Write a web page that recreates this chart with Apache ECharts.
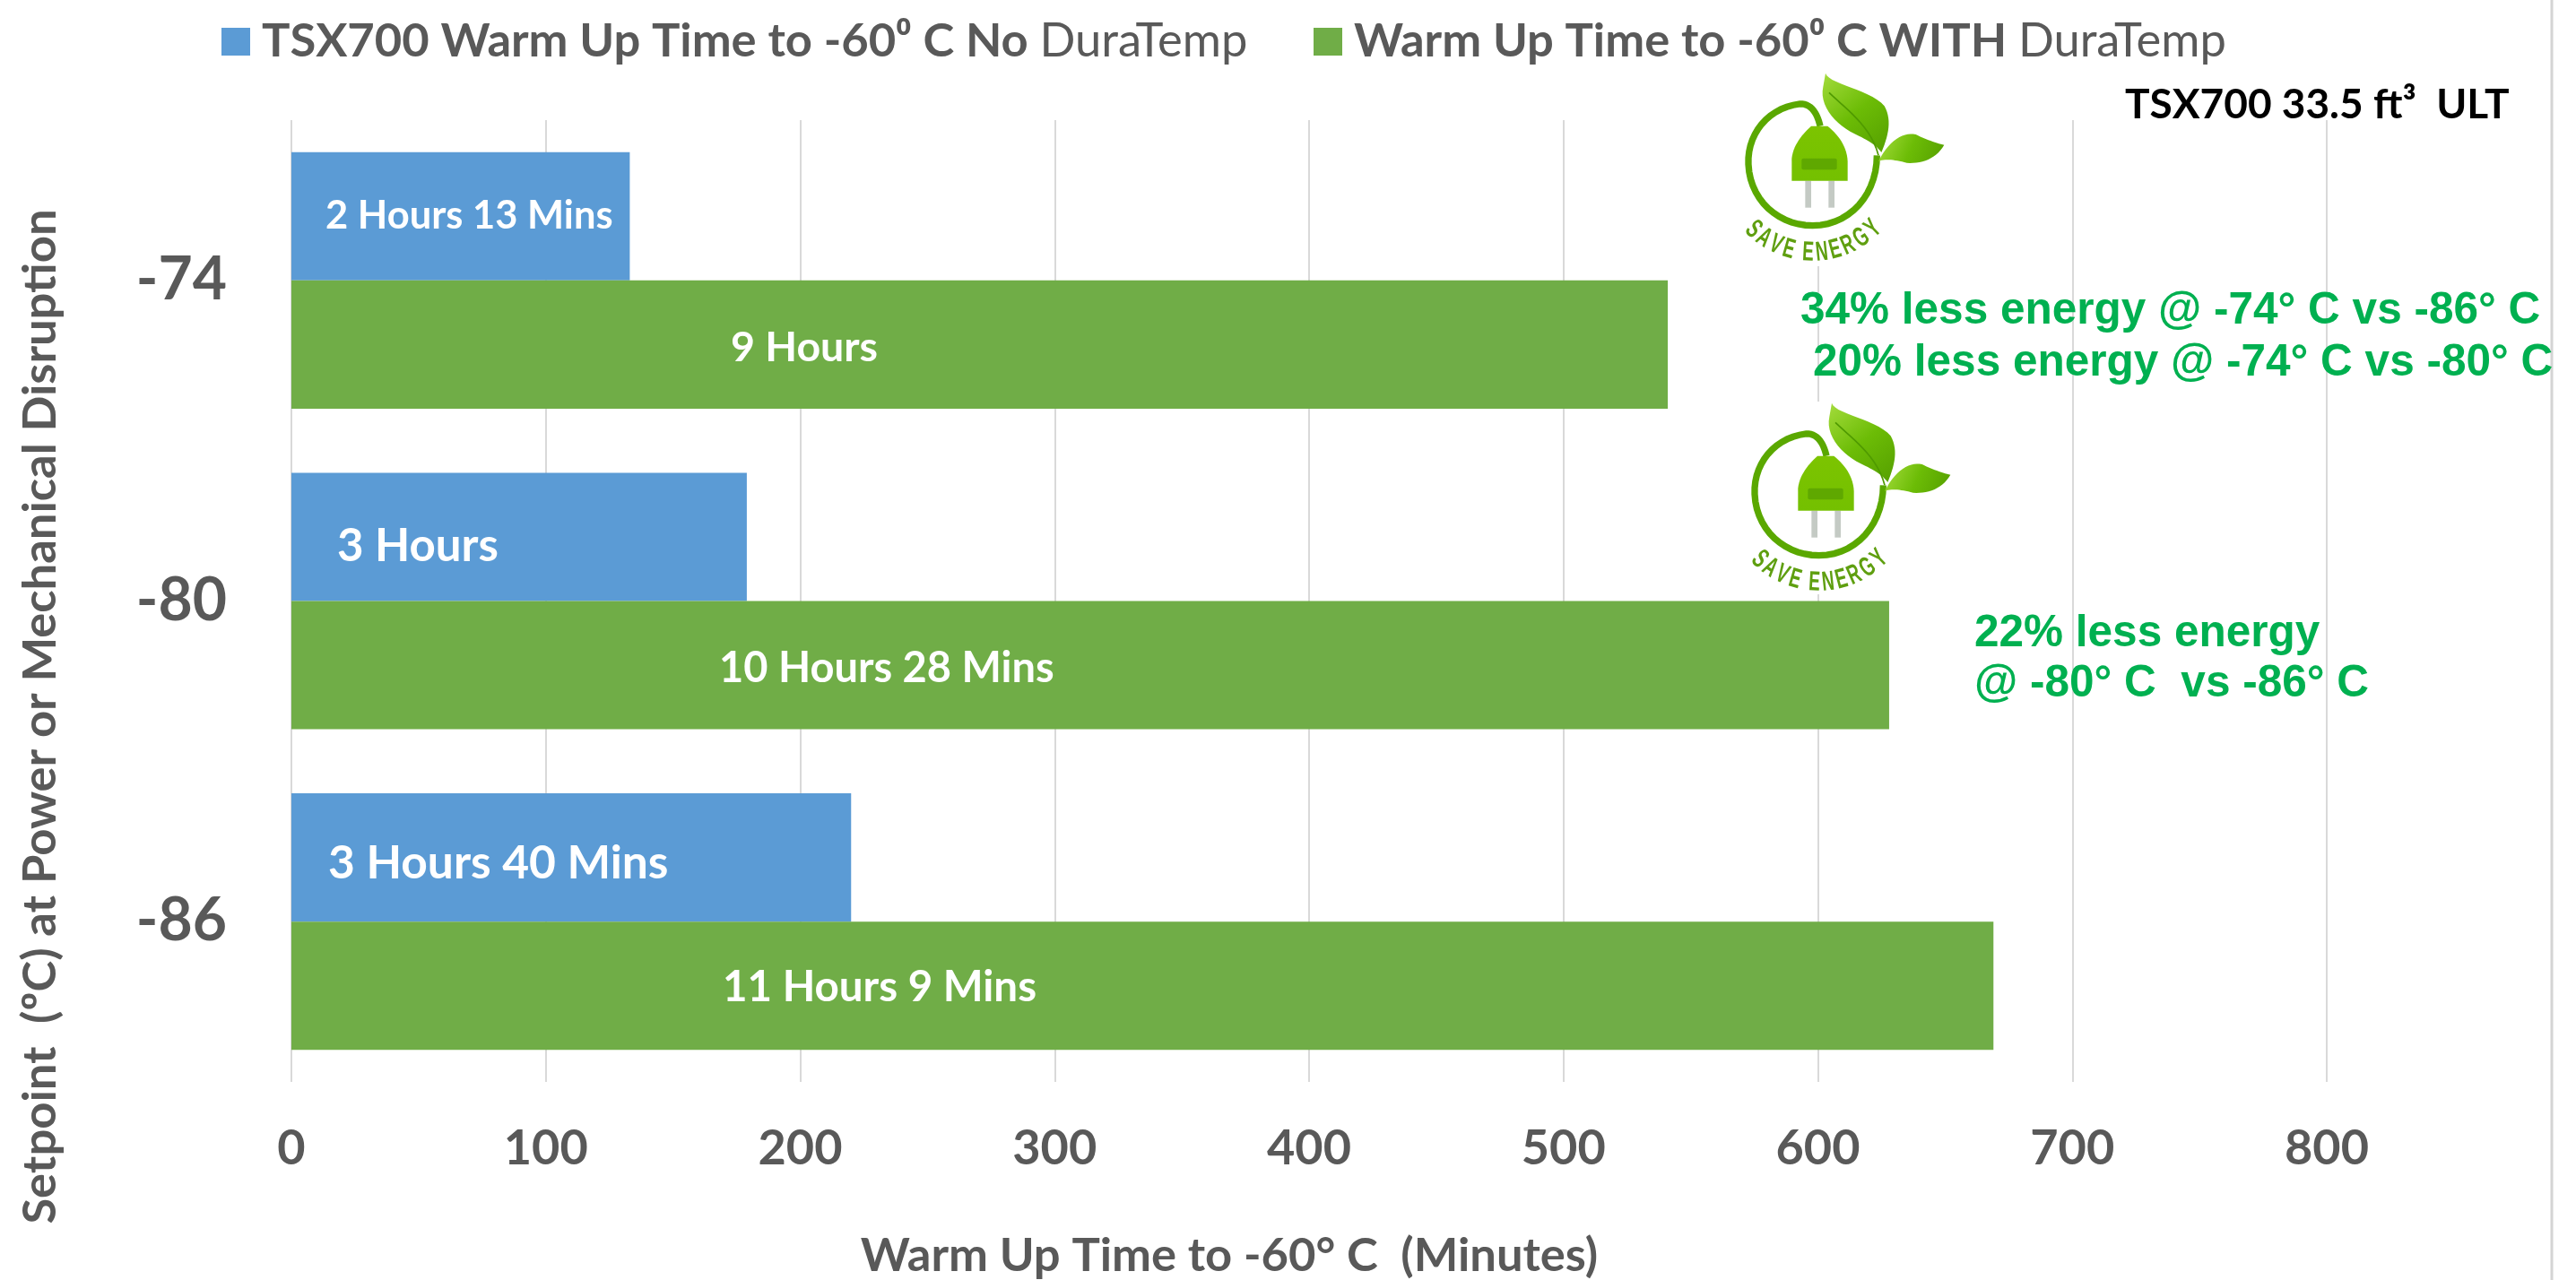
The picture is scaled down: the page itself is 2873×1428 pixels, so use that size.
<!DOCTYPE html>
<html>
<head>
<meta charset="utf-8">
<title>TSX700 Warm Up Time</title>
<style>html,body{margin:0;padding:0;background:#fff}#c{width:2873px;height:1428px}</style>
<script src="https://cdn.jsdelivr.net/npm/echarts@6/dist/echarts.min.js"></script>
</head>
<body>
<div id="c"></div>
<script>
const categories = ['-74', '-80', '-86'];
const tickValues = [0, 100, 200, 300, 400, 500, 600, 700, 800];
const noDuraTemp = [133, 179, 220];
const withDuraTemp = [541, 628, 669];
const noDuraTempLabels = ['2 Hours 13 Mins', '3 Hours', '3 Hours 40 Mins'];
const withDuraTempLabels = ['9 Hours', '10 Hours 28 Mins', '11 Hours 9 Mins'];
const seriesNames = ['TSX700 Warm Up Time to -60⁰ C No DuraTemp', 'Warm Up Time to -60⁰ C WITH DuraTemp'];
const chartNote = 'TSX700 33.5 ft³  ULT';
const energyNotes = [
  '34% less energy @ -74° C vs -86° C',
  '20% less energy @ -74° C vs -80° C',
  '22% less energy',
  '@ -80° C  vs -86° C'
];
const xTitle = 'Warm Up Time to -60° C  (Minutes)';
const yTitle = 'Setpoint  (ºC) at Power or Mechanical Disruption';

const FONT = 'Lato';
const GREY = '#595959';
const blueLabelStyle = [
  {fontSize: 43.5, offset: [38, 0]},
  {fontSize: 51, offset: [51, 11]},
  {fontSize: 51.5, offset: [41, 7]}
];
const greenLabelStyle = [
  {fontSize: 46.5, offset: [490, 4]},
  {fontSize: 47, offset: [477, 4]},
  {fontSize: 47.5, offset: [481, 2]}
];
function barData(values, labels, styles) {
  return values.map((v, i) => ({
    value: v,
    label: {show: true, position: 'insideLeft', distance: 0, formatter: labels[i],
      color: '#fff', fontWeight: 'bold', fontFamily: FONT,
      fontSize: styles[i].fontSize, offset: styles[i].offset}
  }));
}
function legendFormatter(name) {
  const parts = name.split('DuraTemp');
  return '{a|' + parts[0] + '}{d|DuraTemp}';
}
function legendRich(size) {
  return {
    a: {fontFamily: FONT, fontWeight: 'bold', fontSize: size, color: GREY, padding: [0, 0, 0, 8]},
    d: {fontFamily: FONT, fontWeight: 'normal', fontSize: size, color: GREY}
  };
}

/* Turn a small M/L/C/Z outline into points so the graphic component can draw it */
function outline(d) {
  const t = d.match(/[MLCZ]|-?[\d.]+/g);
  const pts = [];
  let i = 0, cmd = '', px = 0, py = 0;
  while (i < t.length) {
    if (/[MLCZ]/.test(t[i])) { cmd = t[i++]; if (cmd === 'Z') continue; }
    if (cmd === 'C') {
      const v = t.slice(i, i + 6).map(Number); i += 6;
      for (let k = 1; k <= 14; k++) {
        const u = k / 14, w = 1 - u;
        pts.push([
          w*w*w*px + 3*w*w*u*v[0] + 3*w*u*u*v[2] + u*u*u*v[4],
          w*w*w*py + 3*w*w*u*v[1] + 3*w*u*u*v[3] + u*u*u*v[5]
        ]);
      }
      px = v[4]; py = v[5];
    } else {
      px = +t[i++]; py = +t[i++];
      pts.push([px, py]);
    }
  }
  return pts;
}

/* decorative "save energy" badge, drawn in a 780x720 local box at 1/3 scale */
function badge(ox, oy, wx, wy, ww, wh) {
  const leafFill = {type: 'linear', x: 0, y: 0, x2: 1, y2: 1, colorStops: [
    {offset: 0, color: '#a4dc3c'}, {offset: 0.5, color: '#6cbc06'}, {offset: 1, color: '#559f00'}]};
  const plugFill = {type: 'linear', x: 0, y: 0, x2: 0, y2: 1, colorStops: [
    {offset: 0, color: '#7cc400'}, {offset: 1, color: '#74c000'}]};
  const letters = [['S', -43], ['A', -34], ['V', -25], ['E', -16], ['E', -3], ['N', 6], ['E', 15], ['R', 24], ['G', 34], ['Y', 44]];
  const R = 292, cx = 275, cy = 345;
  const Z = 6;
  const children = [
    {type: 'polyline', z: Z, shape: {points: outline('M300 212 C292 175 272 135 232 138 C125 150 55 240 60 340 C65 460 160 545 275 545 C400 545 490 440 490 310')},
     style: {fill: 'none', stroke: '#5aa800', lineWidth: 22}},
    {type: 'polygon', z: Z, shape: {points: outline('M318 35 C328 72 470 90 515 145 C540 190 530 240 505 300 C490 280 470 265 430 245 C360 215 295 150 310 80 Z')},
     style: {fill: leafFill}},
    {type: 'polyline', z: Z, shape: {points: outline('M330 100 C380 150 470 210 495 310')},
     style: {fill: 'none', stroke: '#4f9a00', lineWidth: 5}},
    {type: 'polygon', z: Z, shape: {points: outline('M495 330 C530 260 580 230 620 240 C650 255 690 270 715 275 C690 320 640 340 590 335 C550 325 520 320 495 330 Z')},
     style: {fill: leafFill}},
    {type: 'rect', z: Z, shape: {x: 250, y: 395, width: 20, height: 90}, style: {fill: '#c4cac4'}},
    {type: 'rect', z: Z, shape: {x: 328, y: 395, width: 20, height: 90}, style: {fill: '#c4cac4'}},
    {type: 'polygon', z: Z, shape: {points: outline('M270 212 L325 212 C360 240 390 280 392 330 L392 395 L205 395 L205 320 C210 275 240 240 270 212 Z')},
     style: {fill: plugFill}},
    {type: 'rect', z: Z, shape: {x: 238, y: 320, width: 118, height: 38, r: 6}, style: {fill: '#5fa800'}}
  ];
  letters.forEach(([ch, deg]) => {
    const t = deg * Math.PI / 180;
    children.push({type: 'text', z: Z, x: cx + R * Math.sin(t), y: cy + R * Math.cos(t), rotation: t, scaleX: 0.62,
      style: {text: ch, fill: '#5f9f10', font: 'bold 92px "Liberation Sans"', align: 'center', verticalAlign: 'middle'}});
  });
  return [
    {type: 'rect', z: 5, shape: {x: wx, y: wy, width: ww, height: wh}, style: {fill: '#fff'}},
    {type: 'group', x: ox, y: oy, scaleX: 1 / 3, scaleY: 1 / 3, children: children}
  ];
}
function noteText(str, x, y) {
  return {type: 'text', z: 7, x: x, y: y,
    style: {text: str, fill: '#00B050', font: 'bold 49.5px "Liberation Sans"', align: 'left', verticalAlign: 'middle'}};
}

const option = {
  animation: false,
  backgroundColor: '#fff',
  textStyle: {fontFamily: FONT},
  legend: [
    {data: [seriesNames[0]], left: 247, top: 20, padding: 0, itemWidth: 32, itemHeight: 31, icon: 'rect',
     formatter: legendFormatter, textStyle: {rich: legendRich(52.5), fontSize: 52.5, color: GREY}},
    {data: [seriesNames[1]], left: 1465, top: 20, padding: 0, itemWidth: 32, itemHeight: 31, icon: 'rect',
     formatter: legendFormatter, textStyle: {rich: legendRich(52.5), fontSize: 52.5, color: GREY}}
  ],
  grid: {left: 325, right: 278, top: 134, bottom: 221, containLabel: false, outerBoundsMode: 'none'},
  xAxis: {
    type: 'value', min: tickValues[0], max: tickValues[tickValues.length - 1], interval: 100,
    axisLine: {show: false}, axisTick: {show: false},
    splitLine: {show: true, lineStyle: {color: '#D9D9D9', width: 2}},
    axisLabel: {fontFamily: FONT, fontWeight: 'bold', fontSize: 54, color: GREY, margin: 48},
    name: xTitle, nameLocation: 'middle', nameGap: 168,
    nameTextStyle: {fontFamily: FONT, fontWeight: 'bold', fontSize: 52.5, color: GREY, padding: [0, 178, 0, 0]}
  },
  yAxis: {
    type: 'category', inverse: true, data: categories,
    axisLine: {show: false}, axisTick: {show: false}, splitLine: {show: false},
    axisLabel: {fontFamily: FONT, fontWeight: 'bold', fontSize: 66, color: GREY, margin: 72, padding: [5, 0, 0, 0]},
    name: yTitle, nameLocation: 'middle', nameGap: 253, nameRotate: 90,
    nameTextStyle: {fontFamily: FONT, fontWeight: 'bold', fontSize: 52.5, color: GREY, padding: [0, 258, 0, 0]}
  },
  series: [
    {name: seriesNames[0], type: 'bar', data: barData(noDuraTemp, noDuraTempLabels, blueLabelStyle),
     itemStyle: {color: '#5B9BD5'}, barCategoryGap: '20%', barGap: '0%'},
    {name: seriesNames[1], type: 'bar', data: barData(withDuraTemp, withDuraTempLabels, greenLabelStyle),
     itemStyle: {color: '#70AD47'}, barCategoryGap: '20%', barGap: '0%'}
  ],
  graphic: {elements: [
    {type: 'line', z: 1, shape: {x1: 2846, y1: 0, x2: 2846, y2: 1428}, style: {stroke: '#D4D4D4', lineWidth: 3}},
    ...badge(1930, 70, 1935, 75, 240, 222),
    ...badge(1937, 438, 1942, 448, 240, 215),
    {type: 'text', z: 7, x: 2370, y: 117, style: {text: chartNote, fill: '#000', font: 'bold 46px Lato', align: 'left', verticalAlign: 'middle'}},
    noteText(energyNotes[0], 2008, 347),
    noteText(energyNotes[1], 2022, 405),
    noteText(energyNotes[2], 2202, 707),
    noteText(energyNotes[3], 2202, 763)
  ]}
};
const chart = echarts.init(document.getElementById('c'), null, {renderer: 'canvas', width: 2873, height: 1428});
chart.setOption(option);
</script>
</body>
</html>
